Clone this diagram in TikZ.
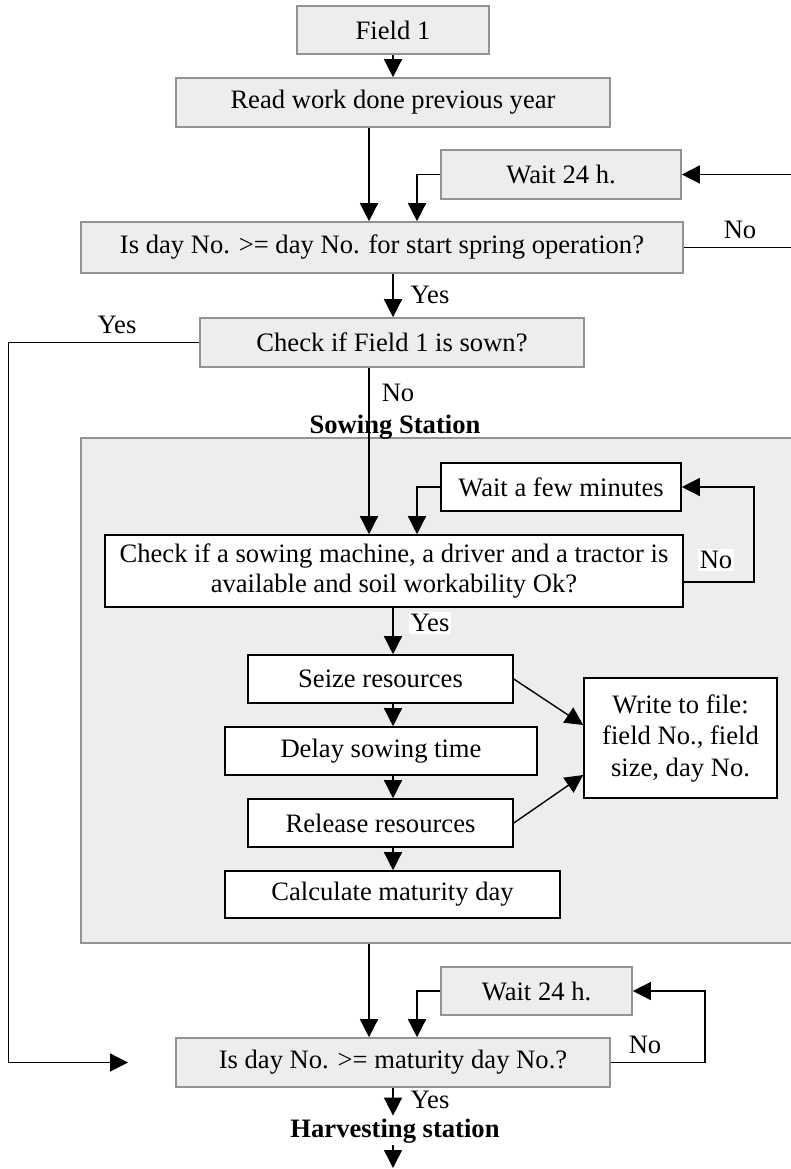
\documentclass[tikz,border=0pt]{standalone}
\usepackage{fontspec}
\setmainfont{Liberation Serif}
\usetikzlibrary{arrows.meta,calc}
\begin{document}
\begin{tikzpicture}[x=1pt,y=-1pt,
  font=\fontsize{26.6}{30}\selectfont,
  shaded/.style={draw=gray!85, line width=1.6pt, fill=gray!14, inner sep=0pt, align=center},
  plain/.style={draw=black, line width=1.6pt, fill=white, inner sep=0pt, align=center},
  arr/.style={line width=1.4pt, -{Triangle[length=18pt,width=18pt]}},
  lbl/.style={inner sep=0pt},
  wlbl/.style={inner sep=2pt, fill=white}]
\useasboundingbox (0,0) rectangle (790,1169);
% axes
\coordinate (ax) at (393,0);
\coordinate (axl) at (369,0);
\coordinate (axr) at (417,0);
% station background
\node[draw=gray!85, line width=1.6pt, fill=gray!14, minimum width=716pt, minimum height=505pt, inner sep=0pt] (station) at (439,690.5) {};
% nodes
\node[shaded, minimum width=192pt, minimum height=48pt] (field1) at (393,30) {Field 1};
\node[shaded, minimum width=434pt, minimum height=49pt] (read) at (393,102.5) {Read work done previous year};
\node[shaded, minimum width=240pt, minimum height=49pt] (wait1) at (561,174.5) {Wait 24 h.};
\node[shaded, minimum width=602pt, minimum height=51pt] (isday) at (382,247.5) {Is day No. >= day No. for start spring operation?};
\node[shaded, minimum width=384pt, minimum height=49pt] (sown) at (392,342.5) {Check if Field 1 is sown?};
\node[plain, minimum width=240pt, minimum height=48pt] (waitfew) at (561,487) {Wait a few minutes};
\node[plain, minimum width=578pt, minimum height=72pt] (checkm) at (394,571) {Check if a sowing machine, a driver and a tractor is\\available and soil workability Ok?};
\node[plain, minimum width=265pt, minimum height=48pt] (seize) at (380.5,679) {Seize resources};
\node[plain, minimum width=312pt, minimum height=48pt] (delay) at (381,751) {Delay sowing time};
\node[plain, minimum width=193pt, minimum height=120pt, font=\fontsize{26.6}{31.5}\selectfont] (write) at (680.5,738) {Write to file:\\field No., field\\size, day No.};
\node[plain, minimum width=265pt, minimum height=48pt] (release) at (380.5,823) {Release resources};
\node[plain, minimum width=335pt, minimum height=47pt] (calc) at (392.5,894.5) {Calculate maturity day};
\node[shaded, minimum width=191pt, minimum height=48pt] (wait2) at (536.5,991) {Wait 24 h.};
\node[shaded, minimum width=434pt, minimum height=49pt] (ismat) at (393,1062.5) {Is day No. >= maturity day No.?};
\node[lbl, font=\fontsize{26.6}{30}\selectfont\bfseries] (harvest) at (395,1131) {Harvesting station};
\coordinate (yesend) at (128,1062.5);
\coordinate (endpt) at (393,1168);
% connectors top part
\draw[arr] (field1.south -| ax) -- (read.north -| ax);
\draw[arr] (read.south -| axl) -- (isday.north -| axl);
\draw[arr] (wait1.west) -| (isday.north -| axr);
\draw[arr] (isday.east) -- ++(125,0) |- (wait1.east);
\node[lbl] (no1) at (740,230) {No};
\draw[arr] (isday.south -| ax) -- (sown.north -| ax);
\node[lbl] (yes1) at (430,295) {Yes};
\draw[arr] (sown.west) -- ++(-191,0) |- (yesend);
\node[lbl] (yes2) at (117,325) {Yes};
\draw[arr] (sown.south -| axl) -- (checkm.north -| axl);
\node[lbl] (no2) at (398,393) {No};
\node[lbl, font=\fontsize{26.6}{30}\selectfont\bfseries] (sowlbl) at (395,427) {Sowing Station};
% sowing station
\draw[arr] (waitfew.west) -| (checkm.north -| axr);
\draw[arr] ([yshift=-11pt]checkm.east) -- ++(70,0) |- (waitfew.east);
\node[wlbl] (no3) at (716,560) {No};
\draw[arr] (checkm.south -| ax) -- (seize.north -| ax);
\node[wlbl] (yes3) at (430,623) {Yes};
\draw[arr] (seize.south -| ax) -- (delay.north -| ax);
\draw[arr] (delay.south -| ax) -- (release.north -| ax);
\draw[arr] (release.south -| ax) -- (calc.north -| ax);
\draw[arr] (seize.east) -- ([yshift=13pt]write.west);
\draw[arr] (release.east) -- ([yshift=-37pt]write.west);
% bottom part
\draw[arr] (station.south -| axl) -- (ismat.north -| axl);
\draw[arr] (wait2.west) -| (ismat.north -| axr);
\draw[arr] (ismat.east) -- ++(94,0) |- (wait2.east);
\node[lbl] (no4) at (645,1045) {No};
\draw[arr] (ismat.south -| ax) -- ([yshift=3pt]harvest.north -| ax);
\node[lbl] (yes4) at (430,1100) {Yes};
\draw[arr] ([yshift=-2pt]harvest.south -| ax) -- (endpt);
\end{tikzpicture}
\end{document}
